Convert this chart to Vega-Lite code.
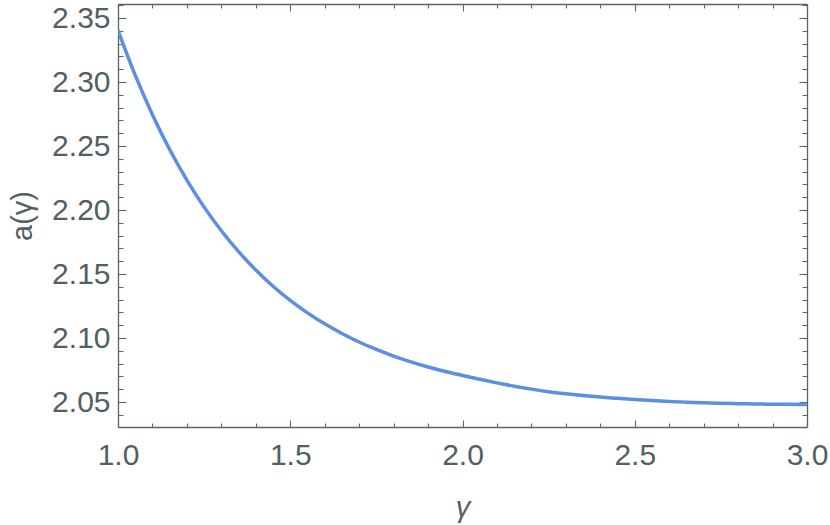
{
  "$schema": "https://vega.github.io/schema/vega-lite/v6.json",
  "width": 689,
  "height": 423,
  "autosize": {"type": "none"},
  "padding": {"left": 118, "top": 4, "right": 23, "bottom": 98},
  "background": "white",
  "config": {
    "view": {"stroke": null},
    "axis": {
      "grid": false,
      "domainColor": "#5a6566",
      "domainWidth": 1.3,
      "tickColor": "#5a6566",
      "tickWidth": 1.1,
      "labelColor": "#516061",
      "titleColor": "#516061",
      "labelFont": "Liberation Sans",
      "titleFont": "Liberation Sans",
      "labelFontSize": 30,
      "titleFontSize": 29,
      "titleFontWeight": "normal",
      "labelFlush": false,
      "labelOverlap": false
    }
  },
  "data": {
    "values": [
      {"g": 1.00, "a": 2.3406}, {"g": 1.05, "a": 2.3054}, {"g": 1.10, "a": 2.2745},
      {"g": 1.15, "a": 2.2473}, {"g": 1.20, "a": 2.2234}, {"g": 1.25, "a": 2.2023},
      {"g": 1.30, "a": 2.1838}, {"g": 1.35, "a": 2.1675}, {"g": 1.40, "a": 2.1532},
      {"g": 1.45, "a": 2.1405}, {"g": 1.50, "a": 2.1294}, {"g": 1.55, "a": 2.1197},
      {"g": 1.60, "a": 2.1111}, {"g": 1.65, "a": 2.1036}, {"g": 1.70, "a": 2.0969},
      {"g": 1.75, "a": 2.0911}, {"g": 1.80, "a": 2.0859}, {"g": 1.85, "a": 2.0814},
      {"g": 1.90, "a": 2.0774}, {"g": 1.95, "a": 2.0739}, {"g": 2.00, "a": 2.0708},
      {"g": 2.05, "a": 2.0678}, {"g": 2.10, "a": 2.0650}, {"g": 2.15, "a": 2.0624},
      {"g": 2.20, "a": 2.0601}, {"g": 2.25, "a": 2.0581}, {"g": 2.30, "a": 2.0565},
      {"g": 2.35, "a": 2.0551}, {"g": 2.40, "a": 2.0539}, {"g": 2.45, "a": 2.0529},
      {"g": 2.50, "a": 2.0520}, {"g": 2.55, "a": 2.0512}, {"g": 2.60, "a": 2.0505},
      {"g": 2.65, "a": 2.0499}, {"g": 2.70, "a": 2.0494}, {"g": 2.75, "a": 2.0490},
      {"g": 2.80, "a": 2.0487}, {"g": 2.85, "a": 2.0485}, {"g": 2.90, "a": 2.0483},
      {"g": 2.95, "a": 2.0482}, {"g": 3.00, "a": 2.0481}
    ]
  },
  "resolve": {
    "scale": {"x": "independent", "y": "independent"},
    "axis": {"x": "independent", "y": "independent"}
  },
  "layer": [
    {
      "mark": {"type": "line", "color": "#5a8fe2", "strokeWidth": 3.5, "interpolate": "monotone", "clip": true},
      "encoding": {
        "x": {"field": "g", "type": "quantitative",
          "scale": {"domain": [1, 3], "nice": false, "zero": false},
          "axis": {"orient": "bottom", "values": [1, 1.5, 2, 2.5, 3], "format": ".1f", "ticks": false,
            "labelPadding": 13, "title": "γ", "titleFontStyle": "italic", "titlePadding": 23}},
        "y": {"field": "a", "type": "quantitative",
          "scale": {"domain": [2.0305, 2.361], "nice": false, "zero": false},
          "axis": {"orient": "left", "values": [2.05, 2.1, 2.15, 2.2, 2.25, 2.3, 2.35], "format": ".2f", "ticks": false,
            "labelPadding": 8, "title": "a(γ)", "titlePadding": 14}}
      }
    },
    {
      "mark": {"type": "line", "opacity": 0},
      "encoding": {
        "x": {"field": "g", "type": "quantitative",
          "scale": {"domain": [1, 3], "nice": false, "zero": false},
          "axis": {"orient": "bottom", "values": [1, 1.5, 2, 2.5, 3], "labels": false, "domain": false, "tickSize": -7, "title": null}},
        "y": {"field": "a", "type": "quantitative",
          "scale": {"domain": [2.0305, 2.361], "nice": false, "zero": false},
          "axis": {"orient": "left", "values": [2.05, 2.1, 2.15, 2.2, 2.25, 2.3, 2.35], "labels": false, "domain": false, "tickSize": -8, "title": null}}
      }
    },
    {
      "mark": {"type": "line", "opacity": 0},
      "encoding": {
        "x": {"field": "g", "type": "quantitative",
          "scale": {"domain": [1, 3], "nice": false, "zero": false},
          "axis": {"orient": "bottom", "values": [1.1, 1.2, 1.3, 1.4, 1.6, 1.7, 1.8, 1.9, 2.1, 2.2, 2.3, 2.4, 2.6, 2.7, 2.8, 2.9], "labels": false, "domain": false, "tickSize": -4, "title": null}},
        "y": {"field": "a", "type": "quantitative",
          "scale": {"domain": [2.0305, 2.361], "nice": false, "zero": false},
          "axis": {"orient": "left", "values": [2.04, 2.06, 2.07, 2.08, 2.09, 2.11, 2.12, 2.13, 2.14, 2.16, 2.17, 2.18, 2.19, 2.21, 2.22, 2.23, 2.24, 2.26, 2.27, 2.28, 2.29, 2.31, 2.32, 2.33, 2.34, 2.36], "labels": false, "domain": false, "tickSize": -5, "title": null}}
      }
    },
    {
      "mark": {"type": "line", "opacity": 0},
      "encoding": {
        "x": {"field": "g", "type": "quantitative",
          "scale": {"domain": [1, 3], "nice": false, "zero": false},
          "axis": {"orient": "top", "values": [1, 1.5, 2, 2.5, 3], "labels": false, "tickSize": -7, "title": null}},
        "y": {"field": "a", "type": "quantitative",
          "scale": {"domain": [2.0305, 2.361], "nice": false, "zero": false},
          "axis": {"orient": "right", "values": [2.05, 2.1, 2.15, 2.2, 2.25, 2.3, 2.35], "labels": false, "tickSize": -8, "title": null}}
      }
    },
    {
      "mark": {"type": "line", "opacity": 0},
      "encoding": {
        "x": {"field": "g", "type": "quantitative",
          "scale": {"domain": [1, 3], "nice": false, "zero": false},
          "axis": {"orient": "top", "values": [1.1, 1.2, 1.3, 1.4, 1.6, 1.7, 1.8, 1.9, 2.1, 2.2, 2.3, 2.4, 2.6, 2.7, 2.8, 2.9], "labels": false, "domain": false, "tickSize": -4, "title": null}},
        "y": {"field": "a", "type": "quantitative",
          "scale": {"domain": [2.0305, 2.361], "nice": false, "zero": false},
          "axis": {"orient": "right", "values": [2.04, 2.06, 2.07, 2.08, 2.09, 2.11, 2.12, 2.13, 2.14, 2.16, 2.17, 2.18, 2.19, 2.21, 2.22, 2.23, 2.24, 2.26, 2.27, 2.28, 2.29, 2.31, 2.32, 2.33, 2.34, 2.36], "labels": false, "domain": false, "tickSize": -5, "title": null}}
      }
    }
  ]
}
